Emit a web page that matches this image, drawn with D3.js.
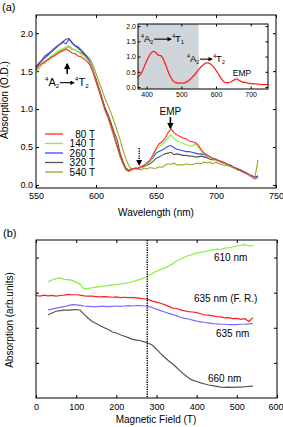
<!DOCTYPE html>
<html>
<head>
<meta charset="utf-8">
<script src="https://cdn.jsdelivr.net/npm/d3@7"></script>
<style>
body { margin: 0; background: #fff; }
svg { font-family: "Liberation Sans", Arial, sans-serif; }
</style>
</head>
<body>
<svg id="fig" width="283" height="427"></svg>
<script>
// ---- panel (a): absorption spectra ----
const wavelength = [550,552.5,555,557.5,560,562.5,565,567.5,570,572.5,575,577.5,580,582.5,585,587.5,590,592.5,595,597.5,
  600,602.5,605,607.5,610,612.5,615,617.5,620,622.5,625,627.5,630,632.5,635,637.5,640,642.5,645,647.5,
  650,652.5,655,657.5,660,662.5,665,667.5,670,672.5,675,677.5,680,682.5,685,687.5,690,692.5,695,697.5,
  700,702.5,705,707.5,710,712.5,715,717.5,720,722.5,725,727.5,730,732.5,735];

const abs80 = [1.52,1.58,1.60,1.63,1.65,1.68,1.70,1.73,1.75,1.77,1.79,1.77,1.74,1.73,1.70,1.69,1.66,1.63,1.58,1.48,
  1.36,1.24,1.12,0.99,0.90,0.78,0.65,0.52,0.39,0.29,0.21,0.18,0.21,0.22,0.21,0.24,0.25,0.29,0.33,0.40,
  0.48,0.54,0.57,0.61,0.69,0.74,0.69,0.66,0.64,0.62,0.61,0.58,0.57,0.56,0.53,0.47,0.42,0.40,0.37,0.35,
  0.33,0.32,0.30,0.29,0.27,0.25,0.23,0.21,0.19,0.17,0.15,0.13,0.10,0.08,0.10];
const abs140 = [1.48,1.55,1.61,1.60,1.66,1.70,1.72,1.76,1.78,1.80,1.82,1.84,1.80,1.78,1.76,1.72,1.70,1.66,1.60,1.50,
  1.37,1.25,1.11,0.98,0.88,0.76,0.63,0.50,0.37,0.27,0.19,0.18,0.20,0.22,0.21,0.23,0.24,0.27,0.31,0.38,
  0.45,0.50,0.53,0.57,0.62,0.66,0.61,0.58,0.56,0.55,0.53,0.52,0.51,0.54,0.50,0.45,0.41,0.39,0.36,0.35,
  0.33,0.31,0.30,0.28,0.27,0.24,0.23,0.20,0.19,0.17,0.15,0.14,0.11,0.09,0.10];
const abs260 = [1.55,1.60,1.64,1.68,1.71,1.75,1.78,1.82,1.85,1.88,1.86,1.92,1.87,1.83,1.82,1.78,1.74,1.69,1.62,1.52,
  1.38,1.25,1.12,0.99,0.90,0.77,0.64,0.51,0.38,0.28,0.20,0.19,0.21,0.22,0.22,0.24,0.26,0.28,0.31,0.36,
  0.42,0.44,0.46,0.48,0.51,0.52,0.49,0.47,0.46,0.45,0.44,0.44,0.43,0.42,0.41,0.41,0.40,0.38,0.37,0.35,
  0.34,0.32,0.31,0.29,0.27,0.26,0.23,0.22,0.20,0.18,0.16,0.14,0.12,0.10,0.12];
const abs320 = [1.56,1.61,1.65,1.70,1.73,1.76,1.80,1.83,1.86,1.89,1.92,1.93,1.88,1.84,1.80,1.77,1.72,1.68,1.61,1.51,
  1.40,1.28,1.15,1.02,0.93,0.82,0.70,0.60,0.43,0.31,0.22,0.19,0.21,0.22,0.22,0.23,0.24,0.26,0.28,0.31,
  0.35,0.37,0.39,0.41,0.42,0.43,0.40,0.41,0.40,0.39,0.39,0.38,0.38,0.37,0.37,0.38,0.37,0.36,0.34,0.33,
  0.34,0.31,0.30,0.28,0.27,0.25,0.23,0.21,0.20,0.18,0.16,0.14,0.12,0.10,0.11];
const abs540 = [1.49,1.54,1.59,1.62,1.65,1.68,1.71,1.73,1.77,1.78,1.80,1.82,1.79,1.78,1.76,1.74,1.72,1.70,1.66,1.58,
  1.47,1.36,1.25,1.14,1.05,0.95,0.84,0.72,0.60,0.46,0.34,0.25,0.20,0.21,0.22,0.20,0.22,0.21,0.23,0.22,
  0.22,0.24,0.23,0.26,0.28,0.27,0.29,0.26,0.27,0.26,0.28,0.27,0.27,0.28,0.29,0.28,0.30,0.29,0.30,0.28,
  0.30,0.28,0.27,0.26,0.25,0.24,0.22,0.20,0.19,0.17,0.15,0.13,0.12,0.10,0.33];

const fieldLabels = ['80 T', '140 T', '260 T', '320 T', '540 T'];
const colorsA = ['#ff2a2a', '#7cf53a', '#3a46ff', '#555555', '#a3a321'];

// inset: zero-field spectrum
const insetWl = [375,385,395,405,415,420,425,435,440,445,455,465,475,485,495,505,515,525,535,545,
  555,565,575,585,595,605,615,625,635,645,655,660,665,675,685,695,705,715,725,735,750];
const insetAbs = [0.32,0.46,0.72,0.98,1.14,1.17,1.14,1.04,1.03,0.98,0.72,0.42,0.22,0.14,0.13,0.13,0.17,0.25,0.36,0.50,
  0.64,0.75,0.79,0.75,0.63,0.46,0.28,0.15,0.14,0.18,0.25,0.27,0.23,0.17,0.15,0.12,0.11,0.10,0.09,0.08,0.08];

// ---- panel (b): field dependence ----
const field = [0,10,20,30,40,50,60,70,80,90,100,110,120,130,140,150,160,170,180,190,200,210,220,230,240,250,
  260,270,280,290,300,310,320,330,340,350,360,370,380,390,400,410,420,430,440,450,460,470,480,490,500,510,
  520,530,540];
const nm610 = [null,null,null,3.31,3.36,3.40,3.42,3.38,3.37,3.35,3.30,3.24,3.10,3.12,3.14,3.16,3.17,3.19,3.20,3.22,
  3.23,3.25,3.26,3.29,3.31,3.35,3.38,3.42,3.48,3.55,3.61,3.66,3.70,3.76,3.82,3.90,3.95,4.01,4.06,4.09,4.13,4.15,
  4.17,4.20,4.22,4.24,4.23,4.27,4.28,4.30,4.33,4.35,4.37,4.33,4.34];
const nm635FR = [2.92,2.90,2.93,2.91,2.92,2.90,2.92,2.93,2.95,2.94,2.94,2.93,2.91,2.90,2.90,2.89,2.88,2.89,2.88,2.87,
  2.88,2.86,2.87,2.86,2.86,2.85,2.84,2.82,2.80,2.76,2.73,2.70,2.66,2.61,2.56,2.55,2.51,2.48,2.46,2.45,2.43,2.40,
  2.37,2.36,2.34,2.32,2.31,2.28,2.29,2.26,2.27,2.24,2.26,2.18,2.29];
const nm635 = [null,null,null,2.51,2.53,2.56,2.58,2.60,2.63,2.66,2.65,2.64,2.62,2.61,2.60,2.60,2.61,2.61,2.60,2.61,
  2.62,2.61,2.62,2.63,2.62,2.63,2.63,2.62,2.61,2.57,2.53,2.49,2.45,2.41,2.38,2.34,2.30,2.27,2.25,2.22,2.19,2.17,
  2.15,2.14,2.12,2.11,2.10,2.10,2.09,2.09,2.09,2.10,2.10,2.11,2.12];
const nm660 = [null,null,null,2.37,2.42,2.47,2.49,2.50,2.50,2.51,2.52,2.50,2.38,2.27,2.18,2.12,2.06,2.00,1.95,1.88,
  1.85,1.80,1.76,1.72,1.67,1.65,1.63,1.60,1.56,1.50,1.39,1.27,1.16,1.06,0.97,0.87,0.76,0.66,0.57,0.51,0.47,0.43,
  0.40,0.37,0.35,0.33,0.31,0.30,0.31,0.30,0.31,0.31,0.32,0.33,0.34];
const colorsB = ['#7ef23a', '#ff2020', '#7b6cff', '#555555'];
const labelsB = ['610 nm', '635 nm (F. R.)', '635 nm', '660 nm'];

const svg = d3.select('#fig');

const defs = svg.append('defs');
defs.append('marker').attr('id', 'head')
  .attr('viewBox', '0 0 10 10').attr('refX', 8).attr('refY', 5)
  .attr('markerWidth', 4).attr('markerHeight', 4).attr('orient', 'auto')
  .append('path').attr('d', 'M0,0L10,5L0,10Z').attr('fill', '#000');

function styleAxis(g, size) {
  g.attr('font-family', null).attr('font-size', size);
  g.select('.domain').remove();
  g.selectAll('line').attr('stroke', '#000');
}

// ===== panel (a) =====
const xA = d3.scaleLinear().domain([550, 750]).range([36, 276]);
const yA = d3.scaleLinear().domain([-0.04, 2.24]).range([188, 15]);
const xTicksA = [550, 600, 650, 700, 750];
const yTicksA = [0, 0.5, 1, 1.5, 2];

svg.append('g').attr('transform', 'translate(0,188)')
  .call(d3.axisBottom(xA).tickValues(xTicksA).tickSizeInner(-3).tickSizeOuter(0).tickPadding(5))
  .call(g => styleAxis(g, 9));
svg.append('g').attr('transform', 'translate(36,0)')
  .call(d3.axisLeft(yA).tickValues(yTicksA).tickFormat(d3.format('.1f')).tickSizeInner(-3).tickSizeOuter(0).tickPadding(3))
  .call(g => styleAxis(g, 9));
svg.append('g').attr('transform', 'translate(0,15)')
  .call(d3.axisTop(xA).tickValues(xTicksA).tickSizeInner(-3).tickSizeOuter(0).tickFormat(''))
  .call(g => styleAxis(g, 9));
svg.append('g').attr('transform', 'translate(276,0)')
  .call(d3.axisRight(yA).tickValues(yTicksA).tickSizeInner(-3).tickSizeOuter(0).tickFormat(''))
  .call(g => styleAxis(g, 9));

const lineA = d3.line().x((d, i) => xA(wavelength[i])).y(d => yA(d));
const seriesA = [abs80, abs140, abs260, abs320, abs540];
// draw 540 T first, 80 T last so red sits on top
[4, 3, 2, 1, 0].forEach(k => {
  svg.append('path').datum(seriesA[k])
    .attr('d', lineA).attr('fill', 'none')
    .attr('stroke', colorsA[k]).attr('stroke-width', 1.1);
});

svg.append('rect').attr('x', 36).attr('y', 15).attr('width', 240).attr('height', 173)
  .attr('fill', 'none').attr('stroke', '#000').attr('stroke-width', 1);

// legend
const legend = svg.append('g');
fieldLabels.forEach((lab, i) => {
  const y = 134 + i * 9.5;
  legend.append('line').attr('x1', 45).attr('x2', 63).attr('y1', y).attr('y2', y)
    .attr('stroke', colorsA[i]).attr('stroke-width', 1.3);
  legend.append('text').attr('x', 95).attr('y', y).attr('dy', '0.36em')
    .attr('text-anchor', 'end').attr('font-size', 10).text(lab);
});

// transition labels like 4A2 -> 4T2
function transition(g, x, y, fs, sub2, arrowLen) {
  const t = g.append('text').attr('x', x).attr('y', y).attr('font-size', fs);
  t.append('tspan').attr('font-size', fs * 0.55).attr('dy', -fs * 0.42).text('4');
  t.append('tspan').attr('dy', fs * 0.42).text('A');
  t.append('tspan').attr('font-size', fs * 0.55).attr('dy', fs * 0.18).text('2');
  const ax = x + t.node().getComputedTextLength() + 0.8;
  g.append('line').attr('x1', ax).attr('x2', ax + arrowLen).attr('y1', y - fs * 0.3).attr('y2', y - fs * 0.3)
    .attr('stroke', '#000').attr('stroke-width', 1.1).attr('marker-end', 'url(#head)');
  const t2 = g.append('text').attr('x', ax + arrowLen + 1.2).attr('y', y).attr('font-size', fs);
  t2.append('tspan').attr('font-size', fs * 0.55).attr('dy', -fs * 0.42).text('4');
  t2.append('tspan').attr('dy', fs * 0.42).text('T');
  t2.append('tspan').attr('font-size', fs * 0.55).attr('dy', fs * 0.18).text(sub2);
}
transition(svg, 45, 86, 11, '2', 14);

// up arrow to the 4T2 band
svg.append('line').attr('x1', xA(576)).attr('x2', xA(576)).attr('y1', 74).attr('y2', 64)
  .attr('stroke', '#000').attr('stroke-width', 1.6).attr('marker-end', 'url(#head)');

// EMP
svg.append('text').attr('x', xA(662)).attr('y', 114.5).attr('text-anchor', 'middle')
  .attr('font-size', 10).text('EMP');
svg.append('line').attr('x1', xA(662)).attr('x2', xA(662)).attr('y1', 117).attr('y2', 128)
  .attr('stroke', '#000').attr('stroke-width', 1.6).attr('marker-end', 'url(#head)');

// dotted arrow at 635 nm
svg.append('line').attr('x1', xA(636)).attr('x2', xA(636)).attr('y1', 148).attr('y2', 163)
  .attr('stroke', '#000').attr('stroke-width', 1.4).attr('stroke-dasharray', '1.3,1.1');
svg.append('path')
  .attr('d', `M${xA(636) - 3},160L${xA(636) + 3},160L${xA(636)},166Z`).attr('fill', '#000');

// axis titles
svg.append('text').attr('x', 156).attr('y', 216).attr('text-anchor', 'middle')
  .attr('font-size', 10).text('Wavelength (nm)');
svg.append('text').attr('transform', 'translate(8,100) rotate(-90)').attr('text-anchor', 'middle')
  .attr('font-size', 10).text('Absorption (O.D.)');
svg.append('text').attr('x', 2).attr('y', 11).attr('font-size', 11).text('(a)');

// ===== inset =====
const xI = d3.scaleLinear().domain([375, 750]).range([138, 268]);
const yI = d3.scaleLinear().domain([-0.065, 2.07]).range([89, 24]);
const inset = svg.append('g');
inset.append('rect').attr('x', 138).attr('y', 24).attr('width', 130).attr('height', 65).attr('fill', '#fff');
inset.append('rect').attr('x', xI(375)).attr('y', 24).attr('width', xI(550) - xI(375)).attr('height', 65)
  .attr('fill', '#cfd5d8');
const xTicksI = [400, 500, 600, 700];
const yTicksI = [0, 0.5, 1, 1.5, 2];
inset.append('g').attr('transform', 'translate(0,89)')
  .call(d3.axisBottom(xI).tickValues(xTicksI).tickSizeInner(-2.5).tickSizeOuter(0).tickPadding(3))
  .call(g => styleAxis(g, 7));
inset.append('g').attr('transform', 'translate(138,0)')
  .call(d3.axisLeft(yI).tickValues(yTicksI).tickFormat(d3.format('.1f')).tickSizeInner(-2.5).tickSizeOuter(0).tickPadding(2))
  .call(g => styleAxis(g, 7));
inset.append('g').attr('transform', 'translate(0,24)')
  .call(d3.axisTop(xI).tickValues(xTicksI).tickSizeInner(-2.5).tickSizeOuter(0).tickFormat(''))
  .call(g => styleAxis(g, 7));
inset.append('g').attr('transform', 'translate(268,0)')
  .call(d3.axisRight(yI).tickValues(yTicksI).tickSizeInner(-2.5).tickSizeOuter(0).tickFormat(''))
  .call(g => styleAxis(g, 7));
inset.append('path').datum(insetAbs)
  .attr('d', d3.line().x((d, i) => xI(insetWl[i])).y(d => yI(d)).curve(d3.curveMonotoneX))
  .attr('fill', 'none').attr('stroke', '#ff2020').attr('stroke-width', 1.3);
inset.append('rect').attr('x', 138).attr('y', 24).attr('width', 130).attr('height', 65)
  .attr('fill', 'none').attr('stroke', '#000').attr('stroke-width', 1);
transition(inset, 141, 42, 9.5, '1', 17);
transition(inset, 187, 62, 9.5, '2', 12);
inset.append('text').attr('x', 242).attr('y', 76).attr('text-anchor', 'middle')
  .attr('font-size', 8.5).text('EMP');

// ===== panel (b) =====
const xB = d3.scaleLinear().domain([0, 600]).range([36, 277]);
const yB = d3.scaleLinear().domain([0, 4.5]).range([398, 240]);
const xTicksB = [0, 100, 200, 300, 400, 500, 600];
const yTicksB = [1, 2, 3, 4];

svg.append('g').attr('transform', 'translate(0,398)')
  .call(d3.axisBottom(xB).tickValues(xTicksB).tickSizeInner(-3).tickSizeOuter(0).tickPadding(6))
  .call(g => styleAxis(g, 9))
  .call(g => g.selectAll('.tick text').filter(d => d === 600).attr('text-anchor', 'end').attr('x', 6));
svg.append('g').attr('transform', 'translate(36,0)')
  .call(d3.axisLeft(yB).tickValues(yTicksB).tickSizeInner(-3).tickSizeOuter(0).tickFormat(''))
  .call(g => styleAxis(g, 9));
svg.append('g').attr('transform', 'translate(0,240)')
  .call(d3.axisTop(xB).tickValues(xTicksB).tickSizeInner(-3).tickSizeOuter(0).tickFormat(''))
  .call(g => styleAxis(g, 9));
svg.append('g').attr('transform', 'translate(277,0)')
  .call(d3.axisRight(yB).tickValues(yTicksB).tickSizeInner(-3).tickSizeOuter(0).tickFormat(''))
  .call(g => styleAxis(g, 9));

const lineB = d3.line().defined(d => d !== null).x((d, i) => xB(field[i])).y(d => yB(d));
[nm610, nm635FR, nm635, nm660].forEach((s, k) => {
  svg.append('path').datum(s).attr('d', lineB).attr('fill', 'none')
    .attr('stroke', colorsB[k]).attr('stroke-width', 1.2);
});

svg.append('line').attr('x1', xB(277)).attr('x2', xB(277)).attr('y1', 240).attr('y2', 398)
  .attr('stroke', '#000').attr('stroke-width', 1.4).attr('stroke-dasharray', '1.3,1.1');

svg.append('rect').attr('x', 36).attr('y', 240).attr('width', 241).attr('height', 158)
  .attr('fill', 'none').attr('stroke', '#000').attr('stroke-width', 1);

const labelPos = [[214, 261], [194, 301.5], [216, 336.5], [208, 382]];
labelsB.forEach((lab, i) => {
  svg.append('text').attr('x', labelPos[i][0]).attr('y', labelPos[i][1])
    .attr('font-size', 10).text(lab);
});

svg.append('text').attr('x', 156).attr('y', 423).attr('text-anchor', 'middle')
  .attr('font-size', 10).text('Magnetic Field (T)');
svg.append('text').attr('transform', 'translate(13,320) rotate(-90)').attr('text-anchor', 'middle')
  .attr('font-size', 10).text('Absorption (arb.units)');
svg.append('text').attr('x', 3).attr('y', 237).attr('font-size', 11).text('(b)');
</script>
</body>
</html>
